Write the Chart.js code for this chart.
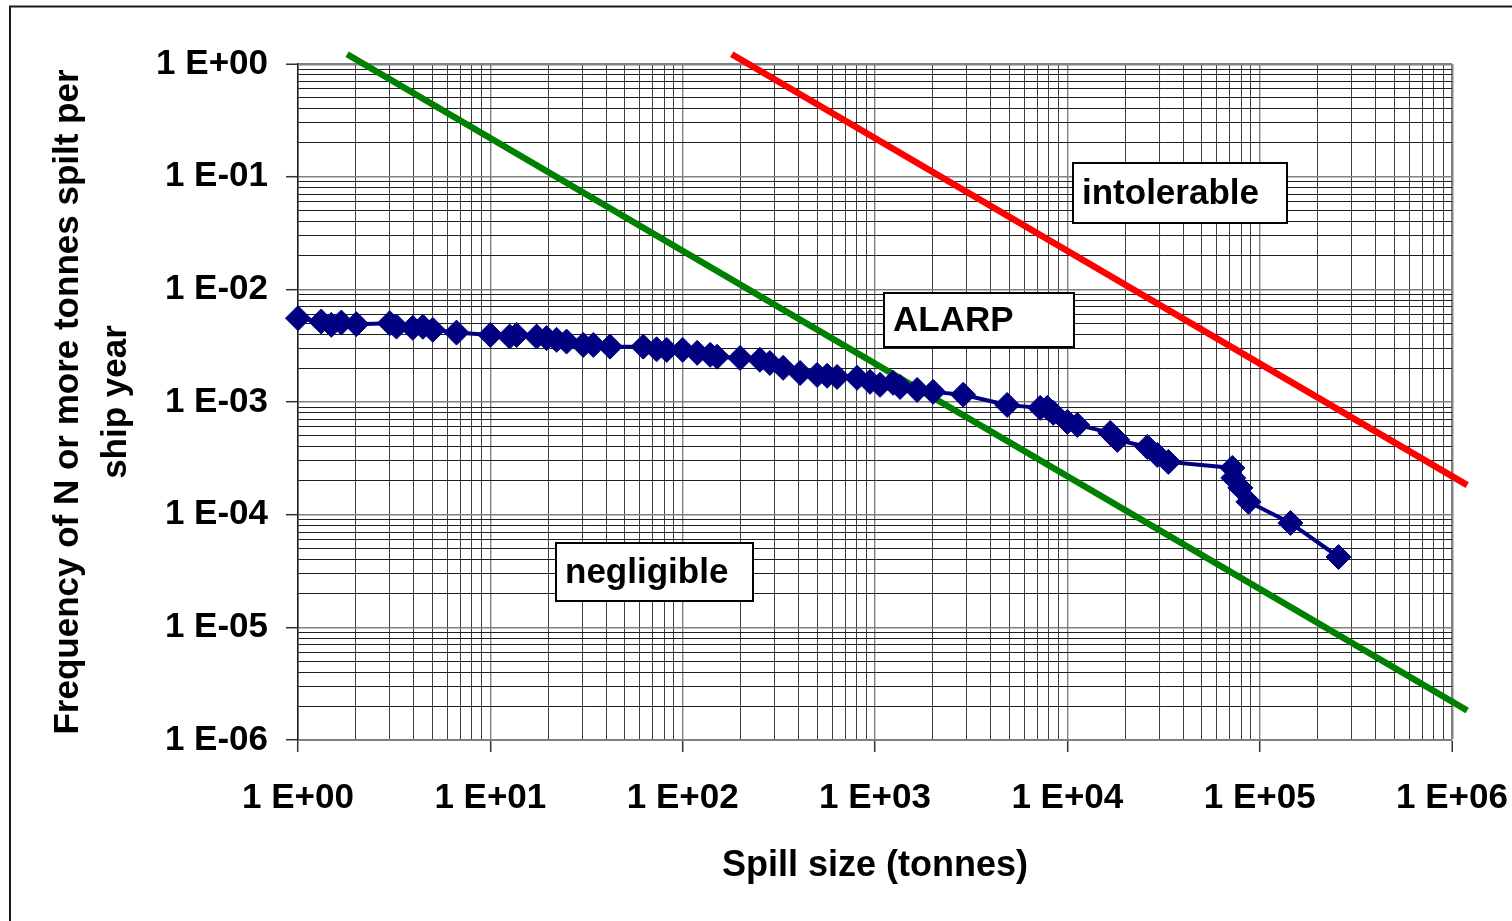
<!DOCTYPE html>
<html>
<head>
<meta charset="utf-8">
<script src="https://cdn.jsdelivr.net/npm/chart.js@4.4.1/dist/chart.umd.min.js"></script>
<style>
  html, body { margin: 0; padding: 0; background: #fff; overflow: hidden; }
  canvas { display: block; }
</style>
</head>
<body>
<canvas id="spillChart" width="1512" height="921"></canvas>
<script>
// Cumulative spill frequency: N tonnes or more spilt, per ship year
const spillSizes = [1, 1.32, 1.49, 1.68, 2.01, 3.0, 3.25, 3.95, 4.46, 5.02,
  6.67, 10, 12.6, 13.7, 17.4, 19.6, 22.1, 24.9, 30.4, 34.3,
  41.9, 62.4, 73.2, 82.6, 100, 119, 139, 151, 199, 252,
  284, 333, 408, 500, 564, 635, 807, 942, 1062, 1241,
  1350, 1656, 2005, 2872, 4864, 7223, 7870, 8450, 10000, 11270,
  16720, 18190, 26060, 29360, 33500, 72100, 72900, 79400, 87400, 144500,
  257000];
const spillFrequency = [5.55e-3, 5.18e-3, 4.84e-3, 5.07e-3, 4.91e-3, 5.01e-3, 4.67e-3, 4.55e-3, 4.65e-3, 4.37e-3,
  4.13e-3, 3.94e-3, 3.81e-3, 3.94e-3, 3.81e-3, 3.69e-3, 3.56e-3, 3.44e-3, 3.21e-3, 3.21e-3,
  3.10e-3, 3.10e-3, 2.94e-3, 2.90e-3, 2.90e-3, 2.73e-3, 2.62e-3, 2.52e-3, 2.46e-3, 2.37e-3,
  2.22e-3, 2.01e-3, 1.81e-3, 1.74e-3, 1.71e-3, 1.67e-3, 1.64e-3, 1.51e-3, 1.42e-3, 1.48e-3,
  1.36e-3, 1.28e-3, 1.23e-3, 1.16e-3, 9.42e-4, 8.87e-4, 8.87e-4, 8.0e-4, 6.66e-4, 6.26e-4,
  5.32e-4, 4.61e-4, 3.99e-4, 3.39e-4, 2.94e-4, 2.60e-4, 2.12e-4, 1.73e-4, 1.30e-4, 8.44e-5,
  4.21e-5];

// Risk criteria lines (F-N)
const intolerableN = [180, 1.2e6];
const intolerableF = [1.22, 1.83e-4];
const negligibleN = [1.8, 1.2e6];
const negligibleF = [1.22, 1.83e-6];

// Axis tick labels, one per decade
const xTickLabels = ['1 E+00', '1 E+01', '1 E+02', '1 E+03', '1 E+04', '1 E+05', '1 E+06'];
const yTickLabels = ['1 E-06', '1 E-05', '1 E-04', '1 E-03', '1 E-02', '1 E-01', '1 E+00'];
const xExponents = [0, 6];
const yExponents = [-6, 0];

// Region labels
const regionLabels = ['intolerable', 'ALARP', 'negligible'];

const FONT = '"Liberation Sans", Arial, sans-serif';

function isDecade(v) {
  const l = Math.log10(v);
  return Math.abs(l - Math.round(l)) < 1e-9;
}

function logGridValues(minExp, maxExp) {
  const vals = [];
  for (let e = minExp; e < maxExp; e++) {
    for (let m = 1; m <= 9; m++) vals.push(Number((m * Math.pow(10, e)).toPrecision(6)));
  }
  vals.push(Math.pow(10, maxExp));
  return vals;
}

function toPoints(xs, ys) {
  return xs.map((x, i) => ({ x: x, y: ys[i] }));
}

const gridColor = (minor) => (ctx) => (ctx.tick && ctx.tick.major ? '#808080' : minor);
const gridWidth = (edgeValue) => (ctx) => {
  if (!ctx.tick) return 1;
  if (ctx.tick.value === edgeValue) return 2.5;
  return ctx.tick.major ? 1.4 : 1;
};
const tickMarkColor = (ctx) => (ctx.tick && ctx.tick.major ? '#333333' : 'rgba(0,0,0,0)');

const pagePlugin = {
  id: 'pageFrame',
  beforeDraw(chart) {
    const ctx = chart.ctx;
    ctx.save();
    ctx.fillStyle = '#ffffff';
    ctx.fillRect(0, 0, chart.width, chart.height);
    ctx.strokeStyle = '#1a1a1a';
    ctx.lineWidth = 2;
    ctx.beginPath();
    ctx.moveTo(10, chart.height);
    ctx.lineTo(10, 6.5);
    ctx.lineTo(chart.width, 6.5);
    ctx.stroke();
    ctx.restore();
  }
};

// Boxed region labels, placed relative to the page
const labelBoxes = [
  { left: 1073, top: 163, right: 1287, bottom: 223 },
  { left: 884, top: 293, right: 1074, bottom: 347 },
  { left: 556, top: 543, right: 753, bottom: 601 }
];

const labelPlugin = {
  id: 'regionLabels',
  afterDatasetsDraw(chart) {
    const ctx = chart.ctx;
    ctx.save();
    regionLabels.forEach((text, i) => {
      const b = labelBoxes[i];
      ctx.fillStyle = '#ffffff';
      ctx.fillRect(b.left, b.top, b.right - b.left, b.bottom - b.top);
      ctx.strokeStyle = '#000000';
      ctx.lineWidth = 2;
      ctx.strokeRect(b.left, b.top, b.right - b.left, b.bottom - b.top);
      ctx.fillStyle = '#000000';
      ctx.font = 'bold 35px ' + FONT;
      ctx.textAlign = 'left';
      ctx.textBaseline = 'middle';
      ctx.fillText(text, b.left + 9, (b.top + b.bottom) / 2 + 1);
    });
    ctx.restore();
  }
};

new Chart(document.getElementById('spillChart'), {
  type: 'scatter',
  data: {
    datasets: [
      {
        label: 'Spill frequency',
        data: toPoints(spillSizes, spillFrequency),
        showLine: true,
        borderColor: '#000080',
        backgroundColor: '#000080',
        borderWidth: 4,
        pointStyle: 'rectRot',
        pointRadius: 12.5,
        pointBorderWidth: 1,
        pointBorderColor: '#000080',
        pointBackgroundColor: '#000080',
        tension: 0,
        clip: false
      },
      {
        label: 'Negligible',
        data: toPoints(negligibleN, negligibleF),
        showLine: true,
        borderColor: '#008000',
        borderWidth: 6.5,
        pointRadius: 0,
        tension: 0,
        clip: false
      },
      {
        label: 'Intolerable',
        data: toPoints(intolerableN, intolerableF),
        showLine: true,
        borderColor: '#ff0000',
        borderWidth: 6.5,
        pointRadius: 0,
        tension: 0,
        clip: false
      }
    ]
  },
  options: {
    responsive: false,
    animation: false,
    devicePixelRatio: 1,
    layout: { padding: { top: 64, right: 60, bottom: 0, left: 0 } },
    plugins: {
      legend: { display: false },
      tooltip: { enabled: false }
    },
    scales: {
      x: {
        type: 'logarithmic',
        min: Math.pow(10, xExponents[0]),
        max: Math.pow(10, xExponents[1]),
        afterBuildTicks(scale) {
          scale.ticks = logGridValues(xExponents[0], xExponents[1]).map(v => ({ value: v, major: isDecade(v) }));
        },
        afterFit(scale) {
          scale.height = 181;
          scale.paddingLeft = 0;
          scale.paddingRight = 0;
        },
        ticks: {
          autoSkip: false,
          maxRotation: 0,
          padding: 25,
          color: '#000000',
          font: { family: FONT, size: 35, weight: 'bold' },
          callback(value) {
            if (!isDecade(value)) return '';
            return xTickLabels[Math.round(Math.log10(value)) - xExponents[0]];
          }
        },
        grid: {
          color: gridColor('#404040'),
          lineWidth: gridWidth(Math.pow(10, xExponents[1])),
          tickLength: 12,
          tickColor: tickMarkColor,
          tickWidth: 1.5
        },
        border: { display: true, color: '#808080', width: 2 },
        title: {
          display: true,
          text: 'Spill size (tonnes)',
          color: '#000000',
          font: { family: FONT, size: 36, weight: 'bold', lineHeight: 1.2 },
          padding: { top: 0, bottom: 33 }
        }
      },
      y: {
        type: 'logarithmic',
        min: Math.pow(10, yExponents[0]),
        max: Math.pow(10, yExponents[1]),
        afterBuildTicks(scale) {
          scale.ticks = logGridValues(yExponents[0], yExponents[1]).map(v => ({ value: v, major: isDecade(v) }));
        },
        afterFit(scale) {
          scale.width = 298;
          scale.paddingTop = 0;
          scale.paddingBottom = 0;
        },
        ticks: {
          autoSkip: false,
          padding: 18,
          color: '#000000',
          font: { family: FONT, size: 35, weight: 'bold' },
          callback(value) {
            if (!isDecade(value)) return '';
            return yTickLabels[Math.round(Math.log10(value)) - yExponents[0]];
          }
        },
        grid: {
          color: gridColor('#1e1e1e'),
          lineWidth: gridWidth(Math.pow(10, yExponents[1])),
          tickLength: 12,
          tickColor: tickMarkColor,
          tickWidth: 1.5
        },
        border: { display: true, color: '#1a1a1a', width: 1.5 },
        title: {
          display: true,
          text: ['Frequency of N or more tonnes spilt per', 'ship year'],
          color: '#000000',
          font: { family: FONT, size: 35, weight: 'bold', lineHeight: 1.36 },
          padding: { top: 45, bottom: 0 }
        }
      }
    }
  },
  plugins: [pagePlugin, labelPlugin]
});
</script>
</body>
</html>
